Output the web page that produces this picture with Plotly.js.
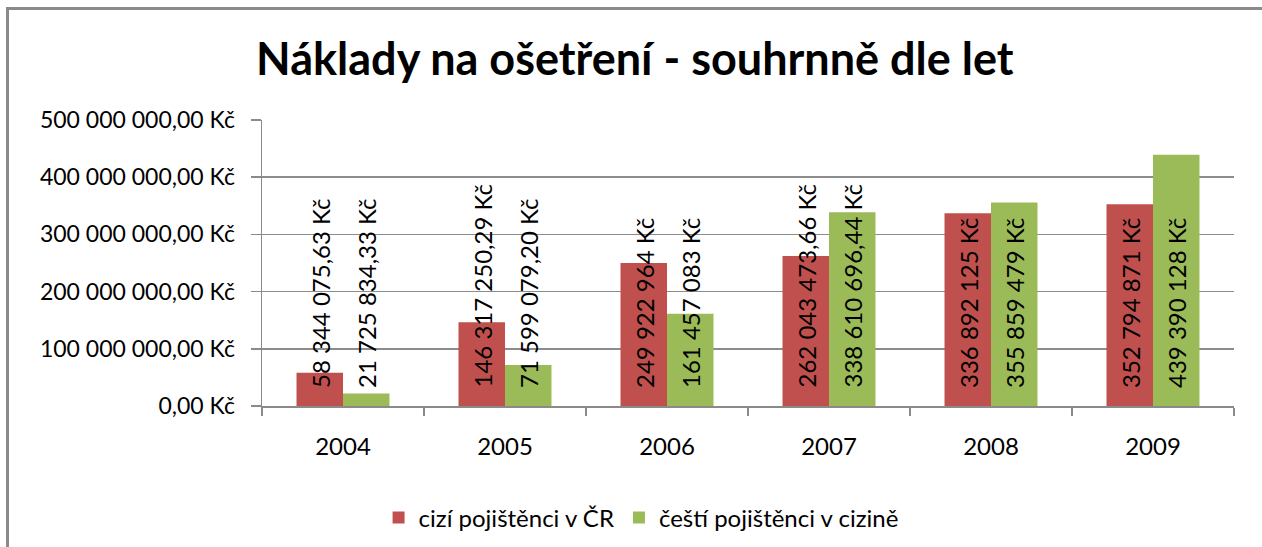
<!DOCTYPE html>
<html>
<head>
<meta charset="utf-8">
<script src="https://cdn.plot.ly/plotly-3.0.1.min.js"></script>
<style>
  html, body { margin: 0; padding: 0; background: #fff; }
  #wrap { position: relative; width: 1262px; height: 547px; }
  #chart { width: 1262px; height: 547px; }
  #frame { position: absolute; left: 6px; top: 7px; right: 0; bottom: 0;
           border-left: 3px solid #8a8a8a; border-top: 3px solid #8a8a8a; pointer-events: none; }
</style>
</head>
<body>
<div id="wrap"><div id="chart"></div><div id="frame"></div></div>
<script>
const years = ["2004", "2005", "2006", "2007", "2008", "2009"];
const seriesNames = ["cizí pojištěnci v ČR", "čeští pojištěnci v cizině"];
const foreignInCZ = [58344075.63, 146317250.29, 249922964, 262043473.66, 336892125, 352794871];
const czechAbroad = [21725834.33, 71599079.20, 161457083, 338610696.44, 355859479, 439390128];
const foreignLabels = ["58 344 075,63 Kč", "146 317 250,29 Kč", "249 922 964 Kč", "262 043 473,66 Kč", "336 892 125 Kč", "352 794 871 Kč"];
const czechLabels = ["21 725 834,33 Kč", "71 599 079,20 Kč", "161 457 083 Kč", "338 610 696,44 Kč", "355 859 479 Kč", "439 390 128 Kč"];
const yTickVals = [0, 100000000, 200000000, 300000000, 400000000, 500000000];
const yTickText = ["0,00 Kč", "100 000 000,00 Kč", "200 000 000,00 Kč", "300 000 000,00 Kč", "400 000 000,00 Kč", "500 000 000,00 Kč"];

const FONT = "Lato, 'Open Sans', sans-serif";
const RED = "#C0504D", GREEN = "#9BBB59";

const traces = [
  { type: "bar", name: seriesNames[0], x: years, y: foreignInCZ, marker: { color: RED }, hoverinfo: "none" },
  { type: "bar", name: seriesNames[1], x: years, y: czechAbroad, marker: { color: GREEN }, hoverinfo: "none" }
];

const annotations = [];
[[foreignLabels, -23], [czechLabels, 23]].forEach(([labels, shift]) => {
  labels.forEach((t, i) => {
    annotations.push({
      x: years.indexOf(years[i]), y: 0, xref: "x", yref: "y", text: t, showarrow: false,
      textangle: -90, xanchor: "center", yanchor: "bottom", xshift: shift, yshift: 16,
      font: { family: FONT, size: 24, color: "#000" }
    });
  });
});

const layout = {
  width: 1262, height: 547,
  margin: { l: 262, r: 28, t: 120, b: 141 },
  paper_bgcolor: "#fff", plot_bgcolor: "#fff",
  font: { family: FONT, size: 22, color: "#000" },
  title: { text: "<b>Náklady na ošetření - souhrnně dle let</b>", font: { family: FONT, size: 45, color: "#000" },
           x: 0.503, xanchor: "center", y: 0.892, yanchor: "middle", yref: "container" },
  barmode: "group", bargap: 0.426, bargroupgap: 0,
  xaxis: { type: "category", range: [-0.5, years.length - 0.5], showgrid: false, showline: true,
           linecolor: "#8a8a8a", linewidth: 1.5,
           ticks: "outside", tickson: "boundaries", ticklen: 8, tickcolor: "#8a8a8a", tickwidth: 1.5,
           tickangle: 0, ticklabelstandoff: 19, tickfont: { family: FONT, size: 24, color: "#000" } },
  yaxis: { range: [0, 500000000], tickvals: yTickVals, ticktext: yTickText, showgrid: true, gridcolor: "#8c8c8c",
           gridwidth: 1.5, showline: true, linecolor: "#8a8a8a", linewidth: 1.5, ticks: "outside", ticklen: 10,
           tickcolor: "#8a8a8a", tickwidth: 1.5, ticklabelstandoff: 11, zeroline: false,
           tickfont: { family: FONT, size: 23, color: "#000" } },
  legend: { orientation: "h", x: 0.39, xanchor: "center", yref: "container", yanchor: "middle",
            font: { family: FONT, size: 24, color: "#000" } },
  annotations: annotations
};
layout.legend.y = 1 - 518 / 547;

Plotly.newPlot("chart", traces, layout, { displayModeBar: false, staticPlot: true });
</script>
</body>
</html>
